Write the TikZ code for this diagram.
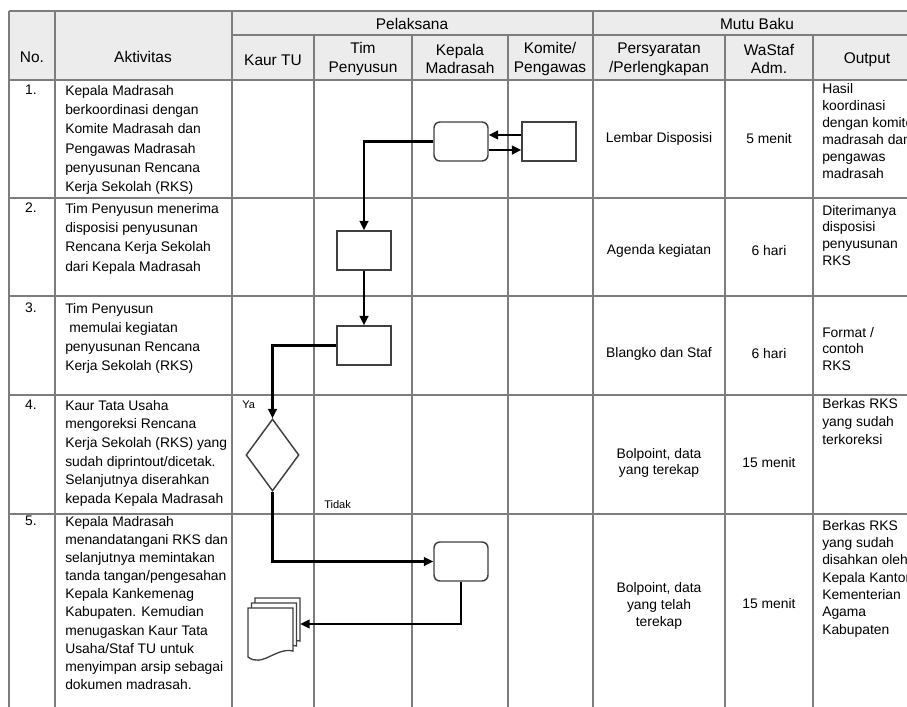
\documentclass[tikz,border=0pt]{standalone}
\usepackage{fontspec}
\setmainfont{Liberation Sans}
\usetikzlibrary{shapes.geometric,arrows.meta}
\definecolor{hdrgray}{RGB}{236,236,236}
\definecolor{gridgray}{RGB}{125,125,125}
\begin{document}
\begin{tikzpicture}[x=0.75pt,y=-0.75pt,
  gridline/.style={draw=gridgray,line width=1pt},
  hdr/.style={font=\fontsize{11.6}{14.2}\selectfont,align=center,inner sep=0},
  cell/.style={font=\fontsize{10.4}{#1}\selectfont,align=center,inner sep=0},
  act/.style={font=\fontsize{10.4}{#1}\selectfont,align=left,anchor=north west,inner sep=0},
  num/.style={font=\fontsize{10.4}{13}\selectfont,anchor=north,inner sep=0},
  small/.style={font=\fontsize{8.3}{10}\selectfont,anchor=west,inner sep=0},
  shapeline/.style={draw=black!75,line width=1.1pt,fill=white},
  sbox/.style={shapeline,rectangle,minimum width=40.5pt,minimum height=29.25pt,inner sep=0},
  rbox/.style={sbox,rounded corners=4.5pt},
  dia/.style={shapeline,diamond,minimum width=39.75pt,minimum height=54pt,inner sep=0},
  flow/.style={draw=black,line width=1.6pt,-{Triangle[length=7pt,width=6.5pt]}},
  docsheet/.style={draw=black!75,line width=1pt,fill=white}
]
\useasboundingbox (0,0) rectangle (907,707);
\clip (0,0) rectangle (907,707);

% header fill
\fill[hdrgray] (9,11) rectangle (921,80);

% grid
\draw[gridline] (9,11) -- (921,11);
\draw[gridline] (232,35) -- (921,35);
\foreach \yy in {80,198,296,395,514} \draw[gridline] (9,\yy) -- (921,\yy);
\foreach \xx in {9,55,232,593,921} \draw[gridline] (\xx,11) -- (\xx,720);
\foreach \xx in {314,412,508,725,813} \draw[gridline] (\xx,35) -- (\xx,720);

% header texts
\node[hdr] (hNo) at (32,57) {No.};
\node[hdr] (hAkt) at (143,57) {Aktivitas};
\node[hdr] (hPel) at (412,24) {Pelaksana};
\node[hdr] (hMutu) at (757,24) {Mutu Baku};
\node[hdr] (hKaur) at (273,60) {Kaur TU};
\node[hdr] (hTim) at (363,59) {Tim\\Penyusun};
\node[hdr] (hKep) at (460,59) {Kepala\\Madrasah};
\node[hdr] (hKom) at (550,59) {Komite/\\Pengawas};
\node[hdr] (hPers) at (659,59) {Persyaratan\\/Perlengkapan};
\node[hdr] (hWa) at (769,59) {WaStaf\\Adm.};
\node[hdr] (hOut) at (867,60) {Output};

% numbers
\node[num] (n1) at (31,85) {1.};
\node[num] (n2) at (31,203) {2.};
\node[num] (n3) at (31,303) {3.};
\node[num] (n4) at (31,400) {4.};
\node[num] (n5) at (31,516) {5.};

% activities
\node[act=14.5] (a1) at (65,85) {Kepala Madrasah\\berkoordinasi dengan\\Komite Madrasah dan\\Pengawas Madrasah\\penyusunan Rencana\\Kerja Sekolah (RKS)};
\node[act=14.5] (a2) at (65,203) {Tim Penyusun menerima\\disposisi penyusunan\\Rencana Kerja Sekolah\\dari Kepala Madrasah};
\node[act=14.3] (a3) at (65,303) {Tim Penyusun\\\hspace*{3pt}memulai kegiatan\\penyusunan Rencana\\Kerja Sekolah (RKS)};
\node[act=14] (a4) at (65,400) {Kaur Tata Usaha\\mengoreksi Rencana\\Kerja Sekolah (RKS) yang\\sudah diprintout/dicetak.\\Selanjutnya diserahkan\\kepada Kepala Madrasah};
\node[act=13.6] (a5) at (65,516) {Kepala Madrasah\\menandatangani RKS dan\\selanjutnya memintakan\\tanda tangan/pengesahan\\Kepala Kankemenag\\Kabupaten. Kemudian\\menugaskan Kaur Tata\\Usaha/Staf TU untuk\\menyimpan arsip sebagai\\dokumen madrasah.};

% persyaratan
\node[cell=12.8] (p1) at (659,139) {Lembar Disposisi};
\node[cell=12.8] (p2) at (659,251) {Agenda kegiatan};
\node[cell=12.8] (p3) at (659,354) {Blangko dan Staf};
\node[cell=11.5] (p4) at (659,463) {Bolpoint, data\\yang terekap};
\node[cell=12.75] (p5) at (659,606) {Bolpoint, data\\yang telah\\terekap};

% waktu
\node[cell=12.8] (w1) at (769,139) {5 menit};
\node[cell=12.8] (w2) at (769,251) {6 hari};
\node[cell=12.8] (w3) at (769,354) {6 hari};
\node[cell=12.8] (w4) at (769,463) {15 menit};
\node[cell=12.8] (w5) at (769,604) {15 menit};

% output
\node[act=12.75] (o1) at (822,83) {Hasil\\koordinasi\\dengan komite\\madrasah dan\\pengawas\\madrasah};
\node[act=12.5] (o2) at (822,205) {Diterimanya\\disposisi\\penyusunan\\RKS};
\node[act=12.4] (o3) at (822,327) {Format /\\contoh\\RKS};
\node[act=13.5] (o4) at (822,398) {Berkas RKS\\yang sudah\\terkoreksi};
\node[act=13] (o5) at (822,520) {Berkas RKS\\yang sudah\\disahkan oleh\\Kepala Kantor\\Kementerian\\Agama\\Kabupaten};

% flow shapes
\node[rbox] (rr1) at (461,141.5) {};
\node[sbox] (kom) at (549,141.5) {};
\node[sbox] (r2) at (364,250.5) {};
\node[sbox] (r3) at (364,345.5) {};
\node[dia] (dia) at (272.5,455) {};
\node[rbox] (rr2) at (461,561.5) {};
\node[inner sep=0,minimum width=39pt,minimum height=39pt] (doc) at (274,624) {};

% multi-document sheets
\foreach \dx/\dy in {7/-10,3.5/-5,0/0}{
  \draw[docsheet,shift={(\dx,\dy)}] (248,608) -- (248,657) .. controls (262,668) and (276,647) .. (293,651) -- (293,608) -- cycle;
}

% labels
\node[small] (ya) at (242,405) {Ya};
\node[small] (tidak) at (324,505) {Tidak};

% connectors
\draw[flow] (rr1.west) -| (r2.north);
\draw[flow] (r2.south) -- (r3.north);
\draw[flow] (r3.west) -| (dia.north);
\draw[flow] (dia.south) |- (rr2.west);
\draw[flow] (rr2.south) |- (doc.east);
\draw[flow] ([yshift=4.9pt]kom.west) -- ([yshift=4.9pt]rr1.east);
\draw[flow] ([yshift=-6.4pt]rr1.east) -- ([yshift=-6.4pt]kom.west);
\end{tikzpicture}
\end{document}
